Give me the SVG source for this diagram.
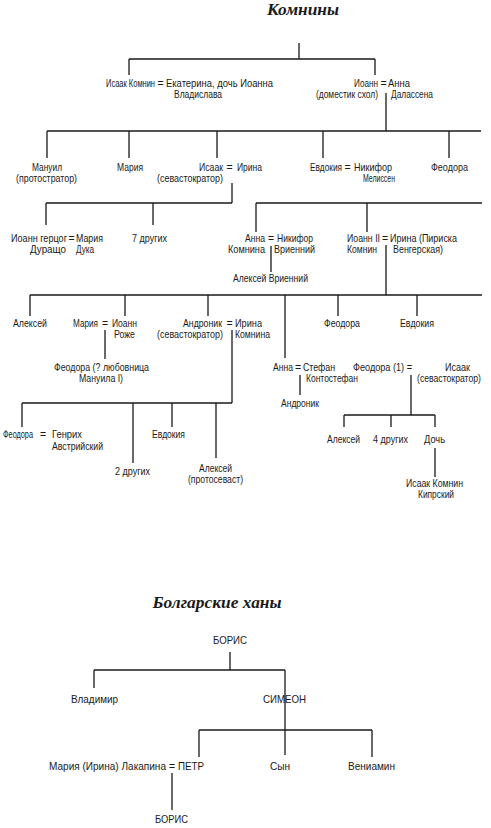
<svg xmlns="http://www.w3.org/2000/svg" width="491" height="828" viewBox="0 0 491 828">
<style>
.t text{font-family:"Liberation Sans",Arial,sans-serif;font-size:10.5px;fill:#1a1a1a}
.h{font-family:"Liberation Serif",serif;font-size:17px;font-weight:bold;font-style:italic;fill:#1a1a1a}
.m{text-anchor:middle}
.c{stroke:#1a1a1a;stroke-width:1.3;fill:none}
</style>
<rect width="491" height="828" fill="#fff"/>
<text class="h m" x="303" y="15" textLength="72" lengthAdjust="spacingAndGlyphs">Комнины</text>
<text class="h m" x="217" y="608" textLength="129" lengthAdjust="spacingAndGlyphs">Болгарские ханы</text>
<g id="connectors" class="c">
<path d="M299,43V59M129,59H375M129,59V75M375,59V75"/>
<path d="M386,93V131M47,131H481M47,131V158M129,131V158M217,131V158M323,131V158M449,131V158"/>
<path d="M232,183V203M46,203H232M46,203V225M153,203V225"/>
<path d="M256,203H482M256,203V232M367,203V232"/>
<path d="M271,246V272"/>
<path d="M386,245V295M30,295H482M30,295V316M125,295V316M208,295V316M338,295V316M417,295V316M285,295V358"/>
<path d="M105,330V359"/>
<path d="M232,330V403M22,403H232M22,403V427M133,403V463M172,403V427M216,403V458"/>
<path d="M300,375V395"/>
<path d="M411,375V415M344,415H435M344,415V427M391,415V427M435,415V427M435,448V477"/>
<path d="M230,652V670M94,670H285M94,670V688M285,670V755M199,730H372M199,730V757M372,730V757M172,773V810"/>
</g>
<g id="isaak-ekaterina" class="t">
<text x="106" y="87" textLength="49" lengthAdjust="spacingAndGlyphs">Исаак Комнин</text><text class="m" x="160.5" y="87">=</text><text x="166" y="87" textLength="107" lengthAdjust="spacingAndGlyphs">Екатерина, дочь Иоанна</text>
<text x="174" y="98" textLength="48" lengthAdjust="spacingAndGlyphs">Владислава</text>
</g>
<g id="ioann-anna" class="t">
<text x="354" y="87" textLength="24" lengthAdjust="spacingAndGlyphs">Иоанн</text><text class="m" x="383.5" y="87">=</text><text x="388" y="87" textLength="22" lengthAdjust="spacingAndGlyphs">Анна</text>
<text x="316" y="98" textLength="62" lengthAdjust="spacingAndGlyphs">(доместик схол)</text><text x="391" y="98" textLength="42" lengthAdjust="spacingAndGlyphs">Далассена</text>
</g>
<g id="manuil" class="t">
<text x="32" y="171" textLength="30" lengthAdjust="spacingAndGlyphs">Мануил</text>
<text x="16" y="182" textLength="61" lengthAdjust="spacingAndGlyphs">(протостратор)</text>
</g>
<g id="maria1" class="t"><text x="117" y="171" textLength="26" lengthAdjust="spacingAndGlyphs">Мария</text></g>
<g id="isaak-irina" class="t">
<text x="199" y="171" textLength="24" lengthAdjust="spacingAndGlyphs">Исаак</text><text class="m" x="229.5" y="171">=</text><text x="237" y="171" textLength="25" lengthAdjust="spacingAndGlyphs">Ирина</text>
<text x="157" y="182" textLength="66" lengthAdjust="spacingAndGlyphs">(севастократор)</text>
</g>
<g id="evdokia-nikifor" class="t">
<text x="310" y="171" textLength="32" lengthAdjust="spacingAndGlyphs">Евдокия</text><text class="m" x="347.5" y="171">=</text><text x="354" y="171" textLength="38" lengthAdjust="spacingAndGlyphs">Никифор</text>
<text x="363" y="182" textLength="32" lengthAdjust="spacingAndGlyphs">Мелиссен</text>
</g>
<g id="feodora1" class="t"><text x="431" y="171" textLength="37" lengthAdjust="spacingAndGlyphs">Феодора</text></g>
<g id="ioann-maria" class="t">
<text x="11" y="242" textLength="56" lengthAdjust="spacingAndGlyphs">Иоанн герцог</text><text class="m" x="71.5" y="242">=</text><text x="76" y="242" textLength="27" lengthAdjust="spacingAndGlyphs">Мария</text>
<text x="30" y="253" textLength="36" lengthAdjust="spacingAndGlyphs">Дуращо</text><text x="76" y="253" textLength="18" lengthAdjust="spacingAndGlyphs">Дука</text>
</g>
<g id="seven-others" class="t"><text x="132" y="242" textLength="35" lengthAdjust="spacingAndGlyphs">7 других</text></g>
<g id="anna-nikifor" class="t">
<text x="245" y="242" textLength="20" lengthAdjust="spacingAndGlyphs">Анна</text><text class="m" x="271" y="242">=</text><text x="277" y="242" textLength="36" lengthAdjust="spacingAndGlyphs">Никифор</text>
<text x="228" y="253" textLength="37" lengthAdjust="spacingAndGlyphs">Комнина</text><text x="274" y="253" textLength="41" lengthAdjust="spacingAndGlyphs">Вриенний</text>
</g>
<g id="aleksei-vriennii" class="t"><text x="233" y="282" textLength="75" lengthAdjust="spacingAndGlyphs">Алексей Вриенний</text></g>
<g id="ioann2-irina" class="t">
<text x="347" y="242" textLength="33" lengthAdjust="spacingAndGlyphs">Иоанн II</text><text class="m" x="385" y="242">=</text><text x="390" y="242" textLength="67" lengthAdjust="spacingAndGlyphs">Ирина (Пириска</text>
<text x="347" y="253" textLength="30" lengthAdjust="spacingAndGlyphs">Комнин</text><text x="393" y="253" textLength="50" lengthAdjust="spacingAndGlyphs">Венгерская)</text>
</g>
<g id="aleksei1" class="t"><text x="13" y="327" textLength="34" lengthAdjust="spacingAndGlyphs">Алексей</text></g>
<g id="maria-ioann" class="t">
<text x="73" y="327" textLength="25" lengthAdjust="spacingAndGlyphs">Мария</text><text class="m" x="105" y="327">=</text><text x="112" y="327" textLength="25" lengthAdjust="spacingAndGlyphs">Иоанн</text>
<text x="114" y="338" textLength="21" lengthAdjust="spacingAndGlyphs">Роже</text>
</g>
<g id="andronik-irina" class="t">
<text x="183" y="327" textLength="39" lengthAdjust="spacingAndGlyphs">Андроник</text><text class="m" x="229.5" y="327">=</text><text x="235" y="327" textLength="27" lengthAdjust="spacingAndGlyphs">Ирина</text>
<text x="157" y="338" textLength="66" lengthAdjust="spacingAndGlyphs">(севастократор)</text><text x="235" y="338" textLength="35" lengthAdjust="spacingAndGlyphs">Комнина</text>
</g>
<g id="feodora2" class="t"><text x="324" y="327" textLength="36" lengthAdjust="spacingAndGlyphs">Феодора</text></g>
<g id="evdokia2" class="t"><text x="400" y="327" textLength="34" lengthAdjust="spacingAndGlyphs">Евдокия</text></g>
<g id="feodora-lover" class="t">
<text x="54" y="371" textLength="95" lengthAdjust="spacingAndGlyphs">Феодора (? любовница</text>
<text x="79" y="382" textLength="44" lengthAdjust="spacingAndGlyphs">Мануила I)</text>
</g>
<g id="anna-stefan" class="t">
<text x="273" y="371" textLength="20" lengthAdjust="spacingAndGlyphs">Анна</text><text class="m" x="298" y="371">=</text><text x="303" y="371" textLength="32" lengthAdjust="spacingAndGlyphs">Стефан</text>
<text x="306" y="382" textLength="52" lengthAdjust="spacingAndGlyphs">Контостефан</text>
</g>
<g id="andronik2" class="t"><text x="281" y="407" textLength="38" lengthAdjust="spacingAndGlyphs">Андроник</text></g>
<g id="feodora-isaak" class="t">
<text x="353" y="371" textLength="59" lengthAdjust="spacingAndGlyphs">Феодора (1) =</text><text x="445" y="371" textLength="25" lengthAdjust="spacingAndGlyphs">Исаак</text>
<text x="417" y="382" textLength="64" lengthAdjust="spacingAndGlyphs">(севастократор)</text>
</g>
<g id="feodora-genrikh" class="t">
<text x="3" y="438" textLength="30" lengthAdjust="spacingAndGlyphs">Феодора</text><text class="m" x="43" y="438">=</text><text x="52" y="438" textLength="30" lengthAdjust="spacingAndGlyphs">Генрих</text>
<text x="52" y="450" textLength="51" lengthAdjust="spacingAndGlyphs">Австрийский</text>
</g>
<g id="evdokia3" class="t"><text x="152" y="438" textLength="33" lengthAdjust="spacingAndGlyphs">Евдокия</text></g>
<g id="two-others" class="t"><text x="115" y="475" textLength="35" lengthAdjust="spacingAndGlyphs">2 других</text></g>
<g id="aleksei-protosevast" class="t">
<text x="199" y="472" textLength="33" lengthAdjust="spacingAndGlyphs">Алексей</text>
<text x="188" y="483" textLength="55" lengthAdjust="spacingAndGlyphs">(протосеваст)</text>
</g>
<g id="aleksei3" class="t"><text x="327" y="443" textLength="33" lengthAdjust="spacingAndGlyphs">Алексей</text></g>
<g id="four-others" class="t"><text x="373" y="443" textLength="35" lengthAdjust="spacingAndGlyphs">4 других</text></g>
<g id="doch" class="t"><text x="424" y="443" textLength="21" lengthAdjust="spacingAndGlyphs">Дочь</text></g>
<g id="isaak-kiprskii" class="t">
<text x="406" y="487" textLength="57" lengthAdjust="spacingAndGlyphs">Исаак Комнин</text>
<text x="418" y="498" textLength="36" lengthAdjust="spacingAndGlyphs">Кипрский</text>
</g>
<g id="boris1" class="t"><text x="213" y="644" textLength="34" lengthAdjust="spacingAndGlyphs">БОРИС</text></g>
<g id="vladimir" class="t"><text x="71" y="703" textLength="47" lengthAdjust="spacingAndGlyphs">Владимир</text></g>
<g id="simeon" class="t"><text x="263" y="703" textLength="43" lengthAdjust="spacingAndGlyphs">СИМЕОН</text></g>
<g id="maria-petr" class="t">
<text x="49" y="770" textLength="117" lengthAdjust="spacingAndGlyphs">Мария (Ирина) Лакапина</text><text class="m" x="172" y="770">=</text><text x="178" y="770" textLength="26" lengthAdjust="spacingAndGlyphs">ПЕТР</text>
</g>
<g id="syn" class="t"><text x="270" y="770" textLength="20" lengthAdjust="spacingAndGlyphs">Сын</text></g>
<g id="veniamin" class="t"><text x="348" y="770" textLength="47" lengthAdjust="spacingAndGlyphs">Вениамин</text></g>
<g id="boris2" class="t"><text x="155" y="823" textLength="33" lengthAdjust="spacingAndGlyphs">БОРИС</text></g>
</svg>
